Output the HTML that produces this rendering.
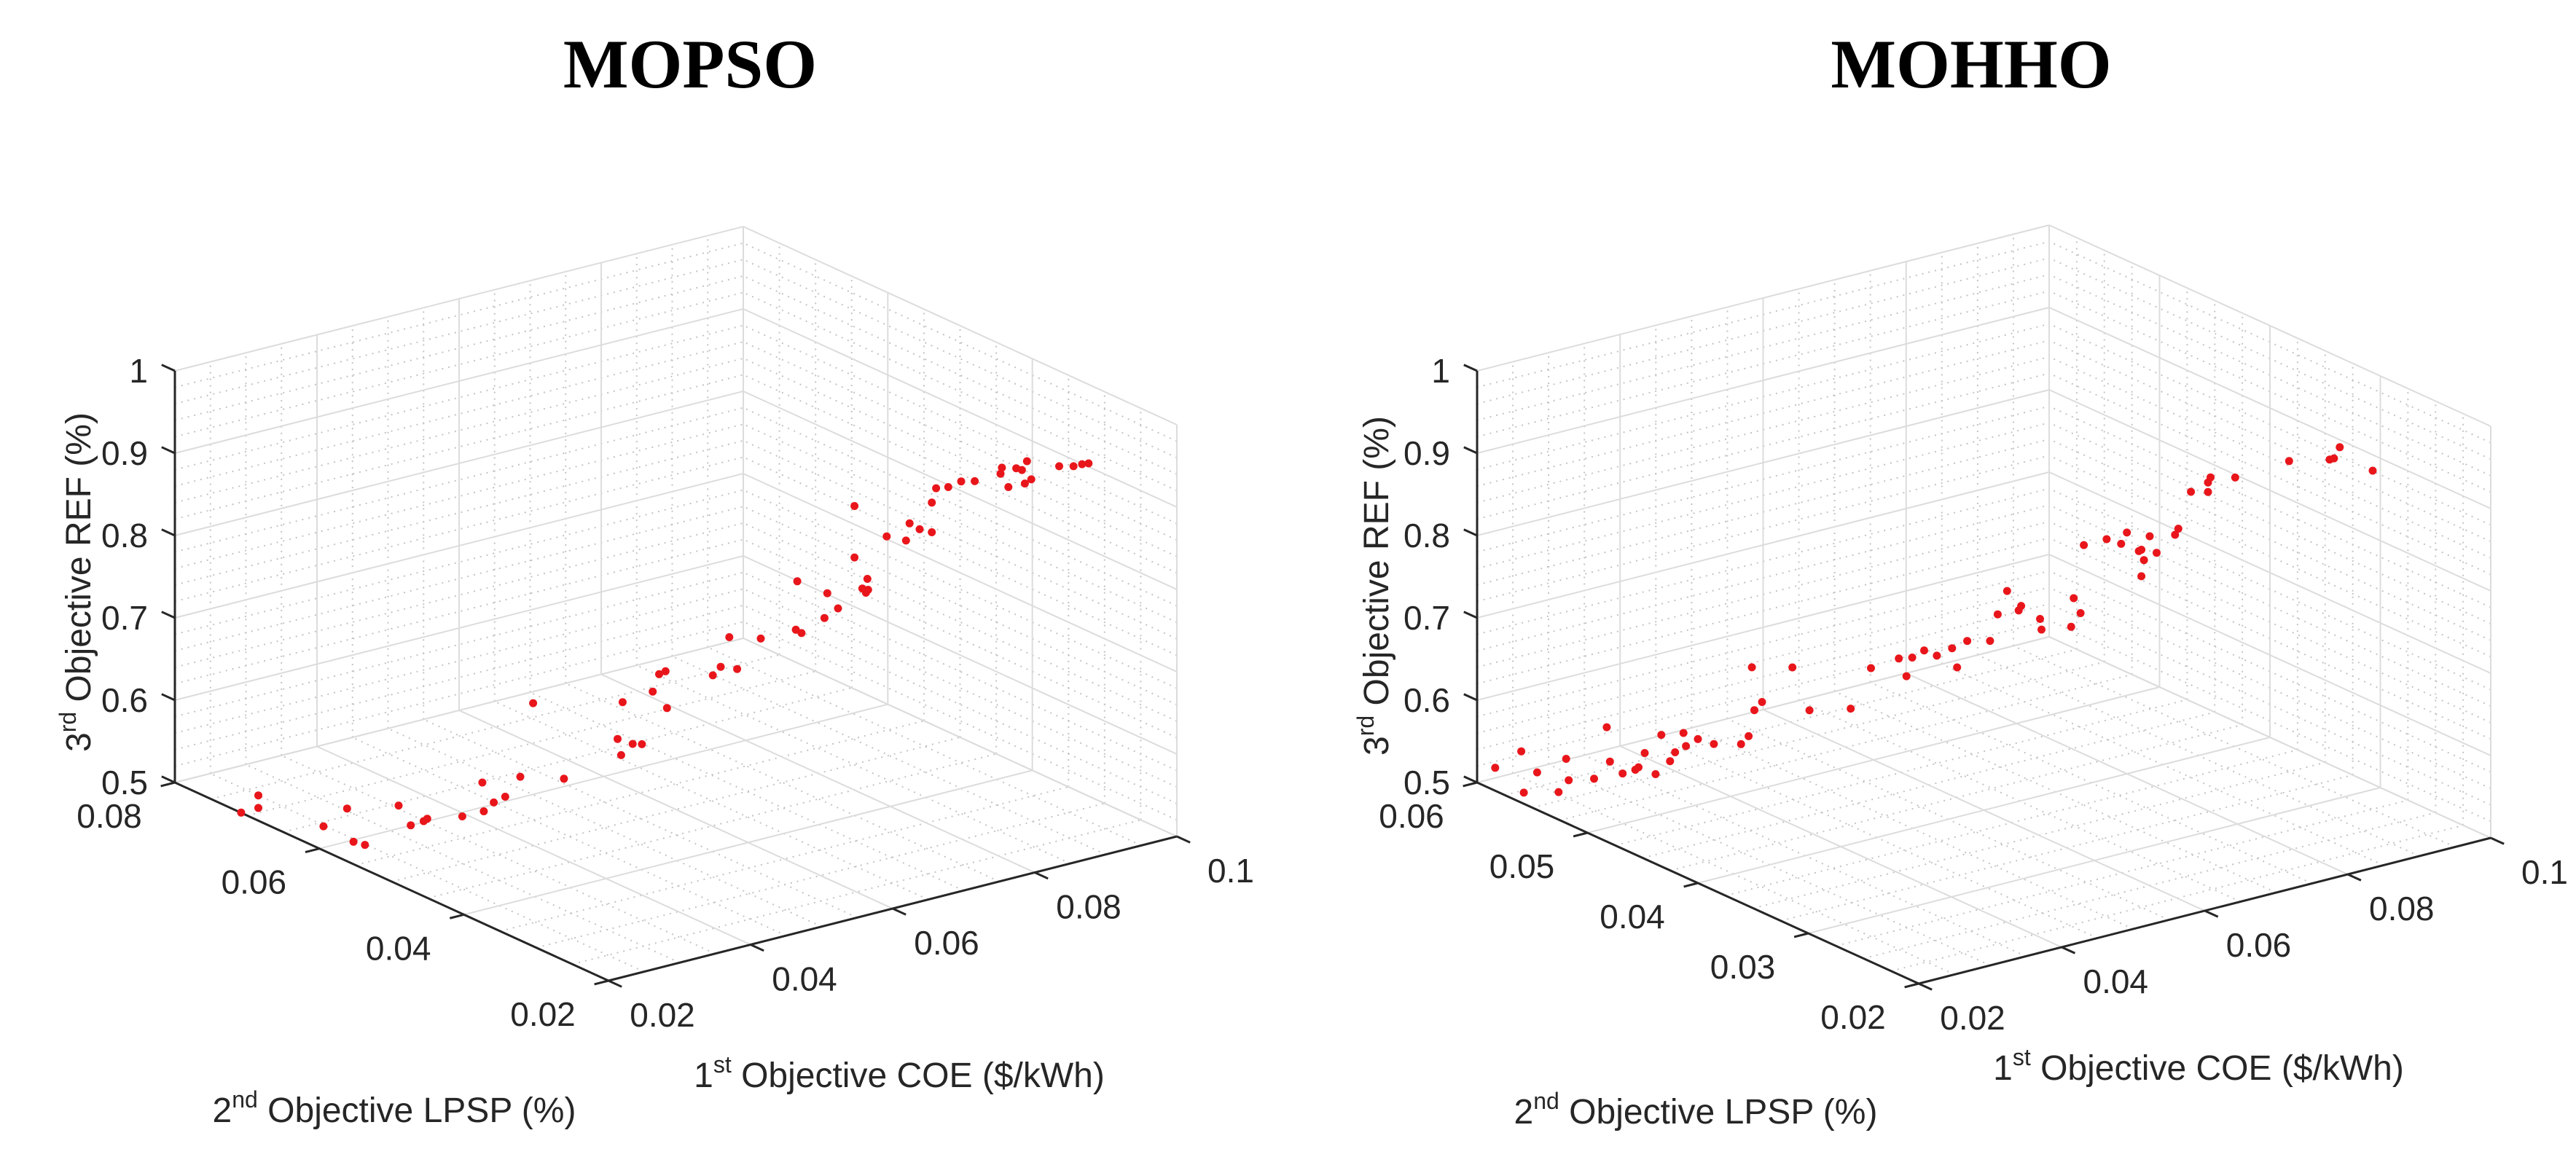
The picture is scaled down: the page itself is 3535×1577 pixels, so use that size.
<!DOCTYPE html>
<html><head><meta charset="utf-8"><style>
html,body{margin:0;padding:0;background:#fff;}
svg{display:block;}
text{font-family:"Liberation Sans",Arial,sans-serif;fill:#262626;}
.ttl{font-family:"Liberation Serif","Times New Roman",serif;font-weight:bold;fill:#000;}
</style></head><body>
<svg id="fig" width="3535" height="1577" viewBox="0 0 3535 1577" xmlns="http://www.w3.org/2000/svg">
<text class="ttl" x="947" y="120" font-size="95" text-anchor="middle">MOPSO</text>
<text class="ttl" x="2705" y="120" font-size="95" text-anchor="middle">MOHHO</text>
<g id="p1"></g>
<g id="p2"></g>
</svg>
<script>
// MOPSO data
const mopsoCOE=[.0218,.0232,.0232,.0284,.0303,.0308,.0317,.0344,.0354,.0364,.0367,.0395,.0411,.0412,.042,.0429,.0441,.0451,.0476,.0519,.0523,.0522,.0531,.0538,.0547,.0552,.0557,.0558,.0595,.0601,.0608,.0614,.0633,.0662,.0661,.0666,.0684,.0686,.0695,.0708,.0708,.0714,.0717,.0718,.0719,.0734,.0749,.0752,.076,.077,.077,.0773,.0783,.0793,.0804,.0825,.0826,.0831,.0837,.0842,.0846,.0844,.0849,.0871,.0883,.089,.0895];
const mopsoLPSP=[.0726,.0716,.0716,.0677,.0663,.0659,.0652,.0632,.0625,.0617,.0615,.0594,.0582,.0581,.0575,.0568,.0559,.0551,.0533,.0501,.0498,.0499,.0492,.0486,.048,.0476,.0472,.0471,.0444,.0439,.0434,.0429,.0415,.0393,.0394,.0391,.0377,.0375,.0369,.0359,.0359,.0354,.0352,.0351,.0351,.034,.0328,.0326,.032,.0313,.0313,.031,.0303,.0295,.0287,.0272,.0271,.0267,.0262,.0259,.0256,.0257,.0253,.0236,.0228,.0223,.0219];
const mopsoREF=[.4892,.511,.4958,.4778,.5008,.461,.458,.5079,.4845,.4906,.4937,.4988,.5412,.5065,.5178,.5257,.5509,.6413,.5513,.603,.648,.5835,.598,.5985,.6628,.6845,.6885,.644,.6865,.6975,.734,.696,.7345,.8065,.7475,.7435,.7635,.794,.776,.9015,.839,.802,.797,.814,.8005,.8665,.863,.884,.8775,.8745,.9105,.9285,.9305,.9385,.9395,.95,.9575,.9345,.958,.956,.967,.94,.9455,.9635,.964,.967,.9685];
// MOHHO data
const mohhoCOE=[.0179,.02,.0202,.0213,.0229,.0235,.0237,.0257,.0267,.027,.028,.029,.0293,.0297,.0306,.0311,.0317,.0321,.0328,.033,.0339,.0352,.0373,.0379,.0382,.0384,.039,.0414,.0427,.046,.0476,.0498,.0504,.0509,.0518,.0528,.054,.0544,.0552,.057,.0576,.0583,.0593,.0595,.0609,.0611,.0634,.0636,.0641,.0644,.0662,.0673,.0678,.0687,.0689,.0691,.0689,.0696,.0701,.0716,.0719,.0729,.0742,.0742,.0744,.0763,.0806,.0838,.0841,.0846,.0872];
const mohhoLPSP=[.057,.056,.0559,.0554,.0545,.0542,.0541,.0531,.0526,.0525,.052,.0515,.0514,.0511,.0507,.0505,.0501,.0499,.0496,.0495,.049,.0484,.0473,.047,.0469,.0468,.0465,.0453,.0446,.043,.0422,.0411,.0408,.0406,.0401,.0396,.039,.0388,.0384,.0375,.0372,.0368,.0364,.0363,.0355,.0355,.0343,.0342,.0339,.0338,.0329,.0323,.0321,.0316,.0315,.0314,.0315,.0312,.0309,.0302,.0301,.0296,.0289,.0289,.0288,.0278,.0257,.0241,.0239,.0237,.0224];
const mohhoREF=[.5408,.5623,.5123,.5375,.5156,.5564,.5306,.5341,.5975,.5557,.5421,.5475,.5504,.5687,.5435,.5913,.5605,.5716,.5954,.5796,.5892,.584,.5859,.5961,.6796,.6278,.6382,.6822,.6315,.636,.6866,.7001,.6791,.7019,.7116,.7061,.7161,.6932,.726,.7276,.7603,.7896,.7662,.7718,.7578,.7444,.75,.785,.7676,.8502,.8588,.8544,.8682,.8467,.8486,.8362,.8164,.8652,.8459,.8687,.8761,.9217,.9229,.9344,.9408,.9425,.9658,.9703,.9723,.986,.9597];
// tick labels
const coeTicks=[0.02,0.04,0.06,0.08,0.1];
const refTicks=[0.5,0.6,0.7,0.8,0.9,1];
const mopsoLpspTicks=[0.02,0.04,0.06,0.08];
const mohhoLpspTicks=[0.02,0.03,0.04,0.05,0.06];

const NS='http://www.w3.org/2000/svg';
function mk(parent,tag,attrs){const e=document.createElementNS(NS,tag);for(const k in attrs)e.setAttribute(k,attrs[k]);parent.appendChild(e);return e;}
function fmt(v){return String(+v.toFixed(3));}

function drawChart(g,cfg,coe,lpsp,ref,lpspTicks,lpspMinor){
  const A=cfg.A,B=cfg.B,C=cfg.C,H=cfg.H;
  const c0=0.02,c1=0.1,l0=lpspTicks[0],l1=lpspTicks[lpspTicks.length-1],r0=0.5,r1=1;
  function P(c,l,r){const u=(c-c0)/(c1-c0),v=(l-l0)/(l1-l0),w=(r-r0)/(r1-r0);
    return [B[0]+u*(C[0]-B[0])+v*(A[0]-B[0]), B[1]+u*(C[1]-B[1])+v*(A[1]-B[1])-w*H];}
  function line(p,q,cls,name){const e=mk(g,'line',{x1:p[0],y1:p[1],x2:q[0],y2:q[1]});
    if(cls==='major'){e.setAttribute('stroke','#dcdcdc');e.setAttribute('stroke-width','2');}
    else if(cls==='minor'){e.setAttribute('stroke','#c4c4c4');e.setAttribute('stroke-width','2');e.setAttribute('stroke-dasharray','2 7');}
    else {e.setAttribute('stroke','#262626');e.setAttribute('stroke-width','3');}
    
    
    return e;}
  const cMin=[],cMaj=[],lMin=[],lMaj=[],rMin=[],rMaj=[];
  for(let i=0;i<=32;i++){const v=c0+i*0.0025;if(i%8===0)cMaj.push(v);else if(i%2===0)cMin.push(v);}
  const nl=Math.round((l1-l0)/lpspMinor);
  const per=Math.round((lpspTicks[1]-lpspTicks[0])/lpspMinor);
  for(let i=0;i<=nl;i++){(i%per===0?lMaj:lMin).push(l0+i*lpspMinor);}
  for(let i=0;i<=25;i++){(i%5===0?rMaj:rMin).push(r0+i*0.02);}
  const order=[['minor',cMin,lMin,rMin],['major',cMaj,lMaj,rMaj]];
  order.forEach(([cls,cs,ls,rs])=>{
    cs.forEach(c=>line(P(c,l1,r0),P(c,l1,r1),cls,'back-wall-grid'));
    rs.forEach(r=>line(P(c0,l1,r),P(c1,l1,r),cls,'back-wall-grid'));
    ls.forEach(l=>line(P(c1,l,r0),P(c1,l,r1),cls,'side-wall-grid'));
    rs.forEach(r=>line(P(c1,l0,r),P(c1,l1,r),cls,'side-wall-grid'));
    cs.forEach(c=>line(P(c,l0,r0),P(c,l1,r0),cls,'floor-grid'));
    ls.forEach(l=>line(P(c0,l,r0),P(c1,l,r0),cls,'floor-grid'));
  });
  line(P(c0,l0,r0),P(c0,l1,r0),'axis','lpsp-axis-line');
  line(P(c0,l0,r0),P(c1,l0,r0),'axis','coe-axis-line');
  line(P(c0,l1,r0),P(c0,l1,r1),'axis','ref-axis-line');
  const dxC=[C[0]-B[0],C[1]-B[1]],dxA=[A[0]-B[0],A[1]-B[1]];
  const nC=Math.hypot(...dxC),nA=Math.hypot(...dxA),T=20;
  refTicks.forEach(r=>{const p=P(c0,l1,r);
    line(p,[p[0]+dxA[0]/nA*T,p[1]+dxA[1]/nA*T],'axis','ref-tick');
    const t=mk(g,'text',{x:p[0]-37,y:p[1]+16,'font-size':46,'text-anchor':'end'});t.textContent=fmt(r);
    
    });
  lpspTicks.forEach(l=>{const p=P(c0,l,r0);
    line(p,[p[0]-dxC[0]/nC*T,p[1]-dxC[1]/nC*T],'axis','lpsp-tick');
    const t=mk(g,'text',{x:p[0]-90,y:p[1]+62,'font-size':46,'text-anchor':'middle'});t.textContent=fmt(l);
    
    });
  coeTicks.forEach(c=>{const p=P(c,l0,r0);
    line(p,[p[0]-dxA[0]/nA*T,p[1]-dxA[1]/nA*T],'axis','coe-tick');
    const t=mk(g,'text',{x:p[0]+74,y:p[1]+63,'font-size':46,'text-anchor':'middle'});t.textContent=fmt(c);
    
    });
  for(let i=0;i<coe.length;i++){const p=P(coe[i],lpsp[i],ref[i]);
    const d=mk(g,'circle',{cx:p[0].toFixed(1),cy:p[1].toFixed(1),r:5.5,fill:'#e8161b'});
    
    }
  const t1=mk(g,'text',{x:cfg.coeT[0],y:cfg.coeT[1],'font-size':48,'text-anchor':'middle'});
  t1.innerHTML='1<tspan font-size="32" dy="-20">st</tspan><tspan dy="20"> Objective COE ($/kWh)</tspan>';
  
  
  const t2=mk(g,'text',{x:cfg.lpT[0],y:cfg.lpT[1],'font-size':48,'text-anchor':'middle'});
  t2.innerHTML='2<tspan font-size="32" dy="-20">nd</tspan><tspan dy="20"> Objective LPSP (%)</tspan>';
  
  
  const t3=mk(g,'text',{x:0,y:0,'font-size':48,'text-anchor':'middle',transform:'translate('+cfg.refT[0]+','+cfg.refT[1]+') rotate(-90)'});
  t3.innerHTML='3<tspan font-size="32" dy="-20">rd</tspan><tspan dy="20"> Objective REF (%)</tspan>';
  
  
}
drawChart(document.getElementById('p1'),{A:[240,1074],B:[835,1346],C:[1615,1148],H:565,coeT:[1234,1492],lpT:[541,1540],refT:[124,799]},mopsoCOE,mopsoLPSP,mopsoREF,mopsoLpspTicks,0.005);
drawChart(document.getElementById('p2'),{A:[2027,1074],B:[2633,1350],C:[3418,1150],H:565,coeT:[3017,1482],lpT:[2327,1542],refT:[1905,804]},mohhoCOE,mohhoLPSP,mohhoREF,mohhoLpspTicks,0.0025);
</script>
</body></html>
